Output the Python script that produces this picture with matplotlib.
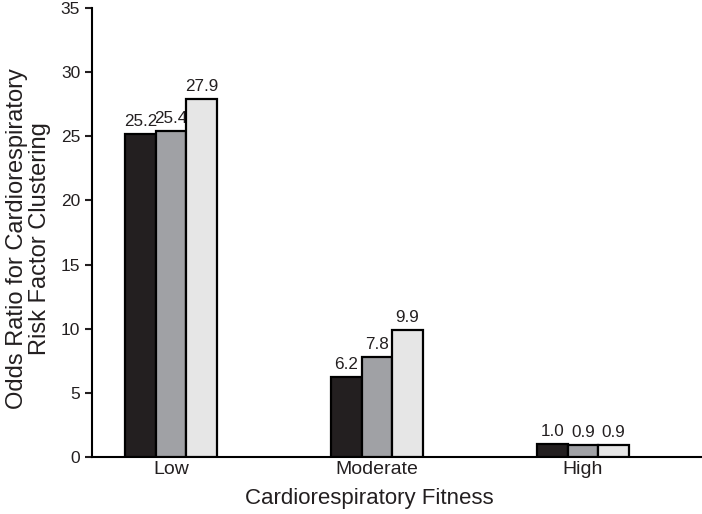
import numpy as np
import matplotlib
matplotlib.use('Agg')
import matplotlib.pyplot as plt

groups = ['Low', 'Moderate', 'High']
series1 = [25.2, 6.2, 1.0]
series2 = [25.4, 7.8, 0.9]
series3 = [27.9, 9.9, 0.9]
colors = ['#231f20', '#a0a1a5', '#e6e6e6']

plt.rcParams['font.family'] = ['Liberation Sans', 'DejaVu Sans']

fig = plt.figure(figsize=(7.02, 5.14), dpi=100)
ax = fig.add_axes([92/702, 57/514, 610/702, 449/514])

x = np.arange(len(groups))
w = 0.148
for i, vals in enumerate([series1, series2, series3]):
    pos = x + (i - 1) * w
    ax.bar(pos, vals, width=w, color=colors[i], edgecolor='black', linewidth=1.6, zorder=3)
    for p, v in zip(pos, vals):
        ax.text(p, v + 0.4, f'{v:.1f}', ha='center', va='bottom', fontsize=12.3, color='#231f20')

ax.set_xlim(-0.383, 2.578)
ax.set_ylim(0, 35)
ax.set_yticks(range(0, 36, 5))
ax.set_xticks(x)
ax.set_xticklabels(groups, fontsize=14)
ax.tick_params(axis='x', length=0, pad=3, colors='#231f20')
ax.tick_params(axis='y', direction='out', length=5, width=1.5, labelsize=12.5, colors='#231f20')
for s in ['top', 'right']:
    ax.spines[s].set_visible(False)
ax.spines['left'].set_linewidth(1.5)
ax.spines['bottom'].set_linewidth(1.5)

ax.set_xlabel('Cardiorespiratory Fitness', fontsize=16, labelpad=7, color='#231f20')
ax.set_ylabel('Odds Ratio for Cardiorespiratory\nRisk Factor Clustering', fontsize=17, labelpad=7,
              linespacing=1.05, color='#231f20')
# labels sit a bit off-centre in the original
ax.xaxis.label.set_x(0.454)
ax.yaxis.label.set_y(0.486)

fig.savefig('out.png', dpi=100)
